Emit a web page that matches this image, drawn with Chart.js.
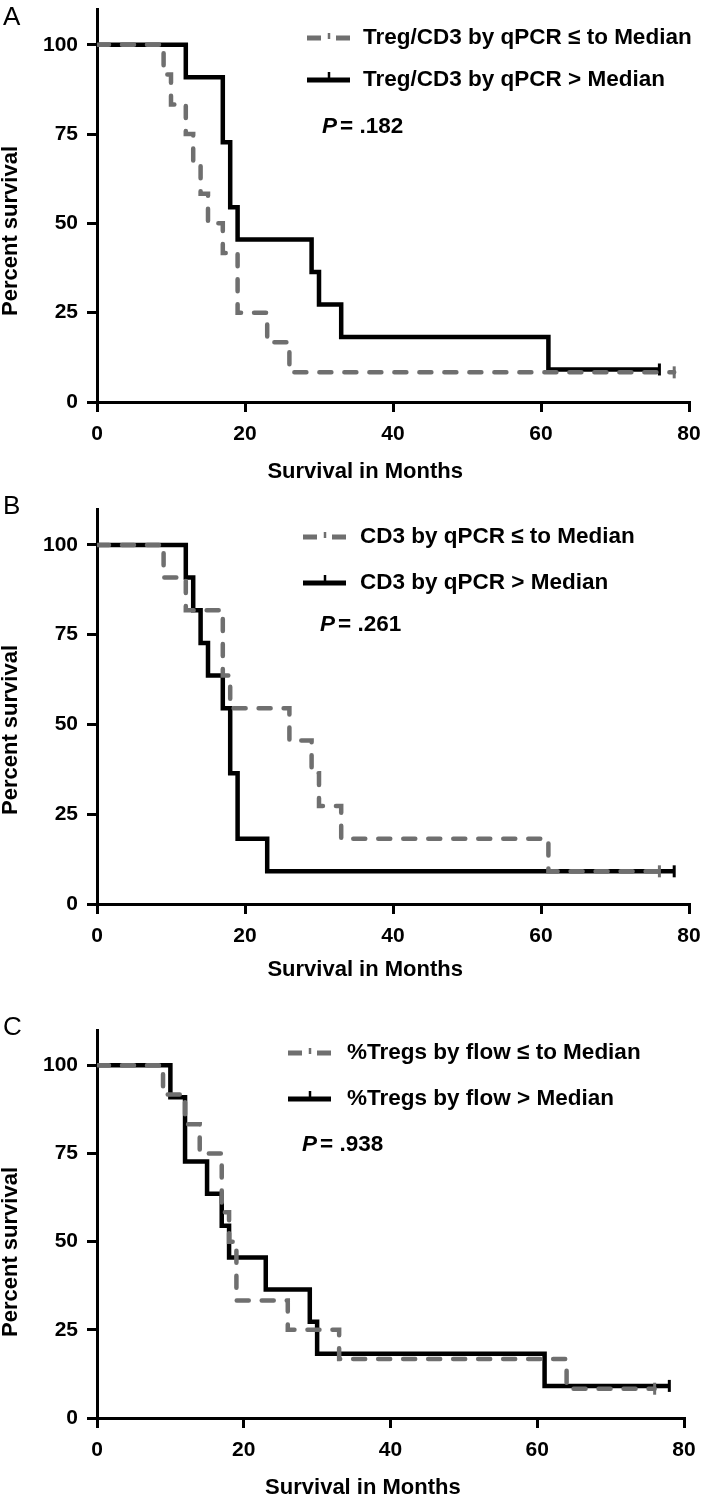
<!DOCTYPE html>
<html><head><meta charset="utf-8">
<script src="https://cdn.jsdelivr.net/npm/chart.js@4.4.1/dist/chart.umd.min.js"></script>
<style>
html,body{margin:0;padding:0;background:#fff;}
#wrap{position:relative;width:704px;height:1498px;overflow:hidden;}
canvas{position:absolute;left:0;}
</style></head><body>
<div id="wrap">
<canvas id="cA" width="704" height="490" style="top:0px"></canvas>
<canvas id="cB" width="704" height="490" style="top:490px"></canvas>
<canvas id="cC" width="704" height="518" style="top:980px"></canvas>
</div>
<script>
// ---------- data ----------
const xTicks = [0, 20, 40, 60, 80];
const yTicks = [0, 25, 50, 75, 100];
const xTitle = 'Survival in Months';
const yTitle = 'Percent survival';

// Panel A
const aLabels = ['Treg/CD3 by qPCR \u2264 to Median', 'Treg/CD3 by qPCR > Median'];
const aP = '= .182';
const aLowT  = [0, 9, 10, 12, 13, 14, 15, 17, 19, 23, 26, 78];
const aLowS  = [100, 91.7, 83.3, 75, 66.7, 58.3, 50, 41.7, 25, 16.7, 8.3, 8.3];
const aLowCT = [78];  const aLowCS = [8.3];
const aHighT = [0, 12, 17, 18, 19, 29, 30, 33, 61, 76];
const aHighS = [100, 90.9, 72.7, 54.5, 45.5, 36.4, 27.3, 18.2, 9.1, 9.1];
const aHighCT = [76]; const aHighCS = [9.1];

// Panel B
const bLabels = ['CD3 by qPCR \u2264 to Median', 'CD3 by qPCR > Median'];
const bP = '= .261';
const bLowT  = [0, 9, 12, 17, 18, 26, 29, 30, 33, 61, 76];
const bLowS  = [100, 90.9, 81.8, 63.6, 54.5, 45.5, 36.4, 27.3, 18.2, 9.1, 9.1];
const bLowCT = [76];  const bLowCS = [9.1];
const bHighT = [0, 12, 13, 14, 15, 17, 18, 19, 23, 78];
const bHighS = [100, 90.9, 81.8, 72.7, 63.6, 54.5, 36.4, 18.2, 9.1, 9.1];
const bHighCT = [78]; const bHighCS = [9.1];

// Panel C
const cLabels = ['%Tregs by flow \u2264 to Median', '%Tregs by flow > Median'];
const cP = '= .938';
const cLowT  = [0, 9, 12, 14, 17, 18, 19, 26, 33, 64, 76];
const cLowS  = [100, 91.7, 83.3, 75, 58.3, 50, 33.3, 25, 16.7, 8.3, 8.3];
const cLowCT = [76];  const cLowCS = [8.3];
const cHighT = [0, 10, 12, 15, 17, 18, 23, 29, 30, 61, 78];
const cHighS = [100, 90.9, 72.7, 63.6, 54.5, 45.5, 36.4, 27.3, 18.2, 9.1, 9.1];
const cHighCT = [78]; const cHighCS = [9.1];

// ---------- drawing ----------
const FONT = '"Liberation Sans",Arial,Helvetica,sans-serif';
const GRAY = '#6f6f6f';

function pts(t, s) { return t.map((v, i) => ({x: v, y: s[i]})); }

function makeChart(id, letter, labels, pText, low, high, L) {
  const ctxEl = document.getElementById(id);
  const overlay = {
    id: 'overlay' + id,
    afterDraw(chart) {
      const ctx = chart.ctx;
      const ca = chart.chartArea;
      ctx.save();
      ctx.fillStyle = '#000';
      // panel letter
      ctx.font = '26px ' + FONT;
      ctx.textAlign = 'left'; ctx.textBaseline = 'middle';
      ctx.fillText(letter, 3, L.letterY);
      // x title
      ctx.font = 'bold 22px ' + FONT;
      ctx.textAlign = 'center';
      ctx.fillText(xTitle, ca.left + (ca.right - ca.left) * 0.453, L.xTitleY);
      // y title
      ctx.save();
      ctx.translate(11, L.yTitleY);
      ctx.rotate(-Math.PI / 2);
      ctx.fillText(yTitle, 0, 0);
      ctx.restore();
      // legend
      ctx.font = 'bold ' + L.fs + 'px ' + FONT;
      ctx.textAlign = 'left';
      ctx.fillText(labels[0], L.tx, L.r1);
      ctx.fillText(labels[1], L.tx, L.r2);
      const sx = L.sx, sw = 43;
      ctx.strokeStyle = GRAY; ctx.lineWidth = 5; ctx.lineCap = 'butt';
      ctx.beginPath();
      ctx.moveTo(sx, L.r1); ctx.lineTo(sx + 14, L.r1);
      ctx.moveTo(sx + 29, L.r1); ctx.lineTo(sx + sw, L.r1);
      ctx.stroke();
      ctx.lineWidth = 2.5;
      ctx.beginPath(); ctx.moveTo(sx + 22, L.r1 - 5); ctx.lineTo(sx + 22, L.r1 + 1); ctx.stroke();
      ctx.strokeStyle = '#000'; ctx.lineWidth = 5;
      ctx.beginPath(); ctx.moveTo(sx, L.r2); ctx.lineTo(sx + sw, L.r2); ctx.stroke();
      ctx.lineWidth = 2.5;
      ctx.beginPath(); ctx.moveTo(sx + 22, L.r2 - 8); ctx.lineTo(sx + 22, L.r2); ctx.stroke();
      // P value
      ctx.font = 'italic bold ' + L.fs + 'px ' + FONT;
      ctx.fillText('P', L.px, L.py);
      const w = ctx.measureText('P').width + 3;
      ctx.font = 'bold ' + L.fs + 'px ' + FONT;
      ctx.fillText(pText, L.px + w, L.py);
      ctx.restore();
    }
  };
  const axisCommon = {
    border: {display: true, color: '#000', width: 3},
    grid: {display: true, drawOnChartArea: false, drawTicks: true, tickLength: 10,
           tickWidth: 3, tickColor: '#000', color: '#000', lineWidth: 3},
  };
  return new Chart(ctxEl, {
    type: 'line',
    data: {
      datasets: [
        {data: pts(low[0], low[1]), stepped: 'before', borderColor: GRAY, borderWidth: 4.5,
         borderDash: [12, 13], borderCapStyle: 'round', pointRadius: 0, fill: false, order: 0},
        {data: pts(low[2], low[3]), showLine: false, pointStyle: 'line', rotation: 90,
         pointRadius: 6, borderColor: GRAY, borderWidth: 3, order: 0},
        {data: pts(high[0], high[1]), stepped: 'before', borderColor: '#000', borderWidth: 4.5,
         borderJoinStyle: 'miter', pointRadius: 0, fill: false, order: 1},
        {data: pts(high[2], high[3]), showLine: false, pointStyle: 'line', rotation: 90,
         pointRadius: 6, borderColor: '#000', borderWidth: 3, order: 1}
      ]
    },
    options: {
      responsive: false, animation: false,
      layout: {padding: {left: 0, right: L.right, top: L.top, bottom: 0}},
      plugins: {legend: {display: false}, tooltip: {enabled: false}},
      scales: {
        x: Object.assign({}, axisCommon, {
          type: 'linear', min: 0, max: 80,
          afterBuildTicks: s => { s.ticks = xTicks.map(v => ({value: v})); },
          afterFit: s => { s.height = L.xh; s.paddingLeft = 0; s.paddingRight = 0; },
          ticks: {font: {family: FONT, size: 21, weight: 'bold'}, color: '#000', padding: 10,
                  maxRotation: 0, autoSkip: false}
        }),
        y: Object.assign({}, axisCommon, {
          type: 'linear', min: 0, max: 110,
          afterBuildTicks: s => { s.ticks = yTicks.map(v => ({value: v})); },
          afterFit: s => { s.width = 97; s.paddingTop = 0; s.paddingBottom = 0; },
          ticks: {font: {family: FONT, size: 21, weight: 'bold'}, color: '#000', padding: 9}
        })
      }
    },
    plugins: [overlay]
  });
}

makeChart('cA', 'A', aLabels, aP, [aLowT, aLowS, aLowCT, aLowCS], [aHighT, aHighS, aHighCT, aHighCS],
  {right: 15, top: 8, xh: 88, letterY: 18, xTitleY: 472, yTitleY: 231,
   fs: 22.5, sx: 307, tx: 363, r1: 38, r2: 80, px: 322, py: 127});
makeChart('cB', 'B', bLabels, bP, [bLowT, bLowS, bLowCT, bLowCS], [bHighT, bHighS, bHighCT, bHighCS],
  {right: 15, top: 19, xh: 76, letterY: 17, xTitleY: 480, yTitleY: 240,
   fs: 22.5, sx: 303, tx: 360, r1: 47, r2: 93, px: 320, py: 135});
makeChart('cC', 'C', cLabels, cP, [cLowT, cLowS, cLowCT, cLowCS], [cHighT, cHighS, cHighCT, cHighCS],
  {right: 20, top: 50, xh: 80, letterY: 48, xTitleY: 508, yTitleY: 272,
   fs: 22.5, sx: 288, tx: 347, r1: 73, r2: 119, px: 302, py: 165});
</script>
</body></html>
